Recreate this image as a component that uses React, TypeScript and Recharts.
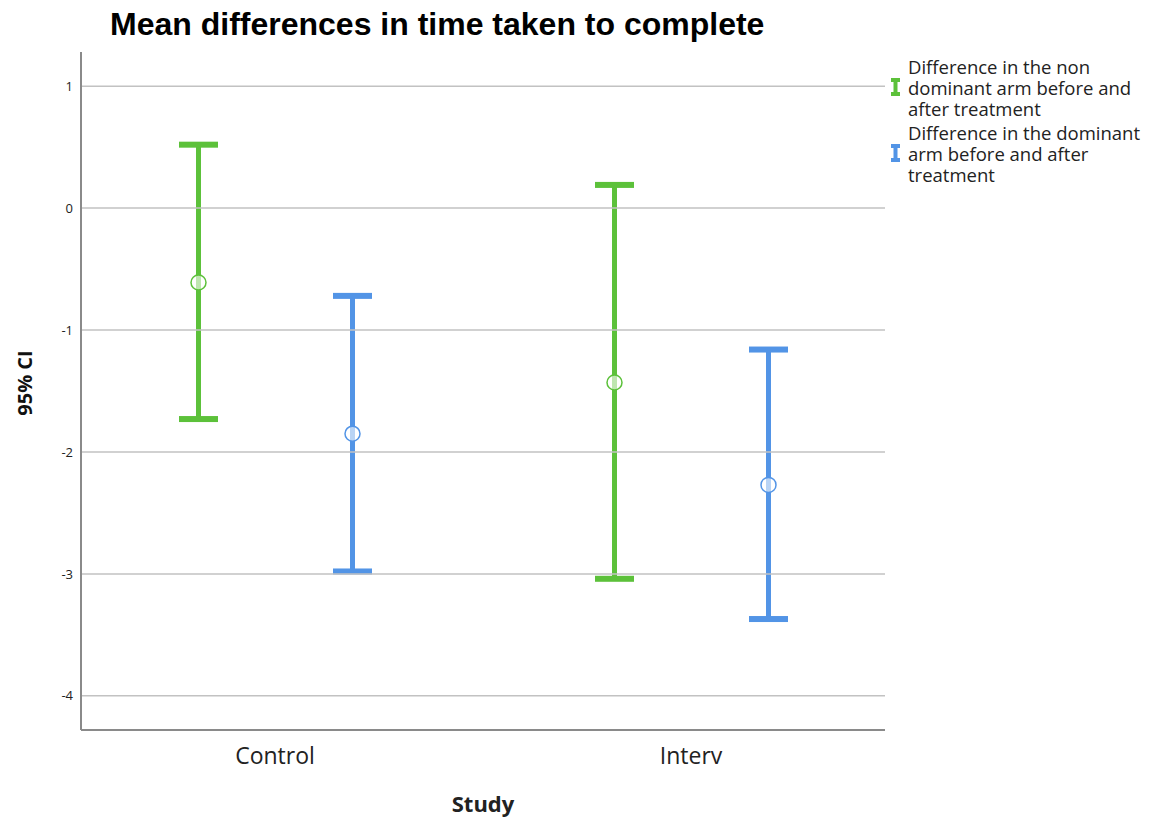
import { Bar, ComposedChart, ReferenceLine, XAxis, YAxis } from "recharts";

const categories = ["Control", "Interv"];
// 95% CI of the difference in the non dominant arm
const nonDomLow = [-1.73, -3.04];
const nonDomMean = [-0.61, -1.43];
const nonDomHigh = [0.52, 0.19];
// 95% CI of the difference in the dominant arm
const domLow = [-2.98, -3.37];
const domMean = [-1.85, -2.27];
const domHigh = [-0.72, -1.16];
const yTicks = [-4, -3, -2, -1, 0, 1];

const GREEN = "#5cc13a";
const BLUE = "#5294e6";
const AXIS = "#8a8a8a";
const FONT = "'Open Sans', sans-serif";

const data = categories.map((study, i) => ({
  study,
  nonDom: [nonDomLow[i], nonDomHigh[i]],
  nonDomMean: nonDomMean[i],
  dom: [domLow[i], domHigh[i]],
  domMean: domMean[i],
}));

// draws the CI as an I-beam inside the range bar, with the mean as an open circle
function errorShape(rangeKey: string, meanKey: string, color: string) {
  return (props: any) => {
    const { x, y, width, height, payload } = props;
    const top = height < 0 ? y + height : y;
    const h = Math.abs(height);
    const vals: number[] = payload[rangeKey];
    const hi = Math.max(vals[0], vals[1]);
    const lo = Math.min(vals[0], vals[1]);
    const mean = payload[meanKey];
    const cy = top + ((hi - mean) / (hi - lo)) * h;
    const cx = x + width / 2;
    return (
      <g>
        <rect x={cx - 2.5} y={top} width={5} height={h} fill={color} />
        <rect x={x} y={top - 3} width={width} height={6} fill={color} />
        <rect x={x} y={top + h - 3} width={width} height={6} fill={color} />
        <circle cx={cx} cy={cy} r={7.5} fill="#fff" fillOpacity={0.6} stroke={color} strokeWidth={1.5} />
      </g>
    );
  };
}

function LegendIcon({ color }: { color: string }) {
  return (
    <svg width={9} height={18} style={{ position: "absolute", left: -17, top: 22 }}>
      <rect x={0} y={0} width={9} height={4} fill={color} />
      <rect x={2.5} y={0} width={4} height={18} fill={color} />
      <rect x={0} y={14} width={9} height={4} fill={color} />
    </svg>
  );
}

function YLabel(props: any) {
  const { viewBox } = props;
  const cx = 16;
  const cy = viewBox.y + viewBox.height / 2 - 8;
  return (
    <text
      x={cx}
      y={cy}
      transform={`rotate(-90, ${cx}, ${cy})`}
      textAnchor="middle"
      dominantBaseline="central"
      fontFamily={FONT}
      fontWeight="bold"
      fontSize={20}
      fill="#111"
    >
      95% CI
    </text>
  );
}

export default function App() {
  const legendItem = { position: "relative" as const, fontFamily: FONT, fontSize: 18.5, lineHeight: "21px", color: "#222" };
  return (
    <div style={{ position: "relative", width: 1149, height: 812 }}>
      <div
        style={{
          position: "absolute",
          left: 102,
          top: -2,
          fontFamily: "'Liberation Sans', Arial, sans-serif",
          fontWeight: "bold",
          fontSize: 32,
          color: "#000",
          whiteSpace: "nowrap",
        }}
      >
        Mean differences in time taken to complete
      </div>
      <ComposedChart
        width={1149}
        height={812}
        data={data}
        margin={{ top: 44, right: 272, left: 33, bottom: 0 }}
        barSize={39}
        barGap={115}
      >
        {yTicks.map((t) => (
          <ReferenceLine key={t} y={t} stroke="#c2c2c2" strokeWidth={1.5} />
        ))}
        <XAxis
          dataKey="study"
          height={90}
          padding={{ left: -14, right: -14 }}
          axisLine={{ stroke: AXIS, strokeWidth: 2 }}
          tickLine={false}
          tickMargin={12}
          tick={{ fontFamily: FONT, fontSize: 23, fill: "#222" }}
          label={{
            value: "Study",
            position: "insideBottom",
            offset: 8,
            style: { fontFamily: FONT, fontWeight: "bold", fontSize: 22, fill: "#222" },
          }}
        />
        <YAxis
          width={40}
          type="number"
          domain={[-4.28, 1.28]}
          ticks={yTicks}
          allowDataOverflow
          axisLine={{ stroke: AXIS, strokeWidth: 2 }}
          tickLine={false}
          tick={{ fontFamily: FONT, fontSize: 13, fill: "#222" }}
          label={<YLabel />}
        />
        <Bar dataKey="nonDom" isAnimationActive={false} shape={errorShape("nonDom", "nonDomMean", GREEN)} />
        <Bar dataKey="dom" isAnimationActive={false} shape={errorShape("dom", "domMean", BLUE)} />
      </ComposedChart>
      <div style={{ position: "absolute", left: 900, top: 48 }}>
        <div style={legendItem}>
          <LegendIcon color={GREEN} />
          Difference in the non
          <br />
          dominant arm before and
          <br />
          after treatment
        </div>
        <div style={{ ...legendItem, marginTop: 3 }}>
          <LegendIcon color={BLUE} />
          Difference in the dominant
          <br />
          arm before and after
          <br />
          treatment
        </div>
      </div>
    </div>
  );
}
